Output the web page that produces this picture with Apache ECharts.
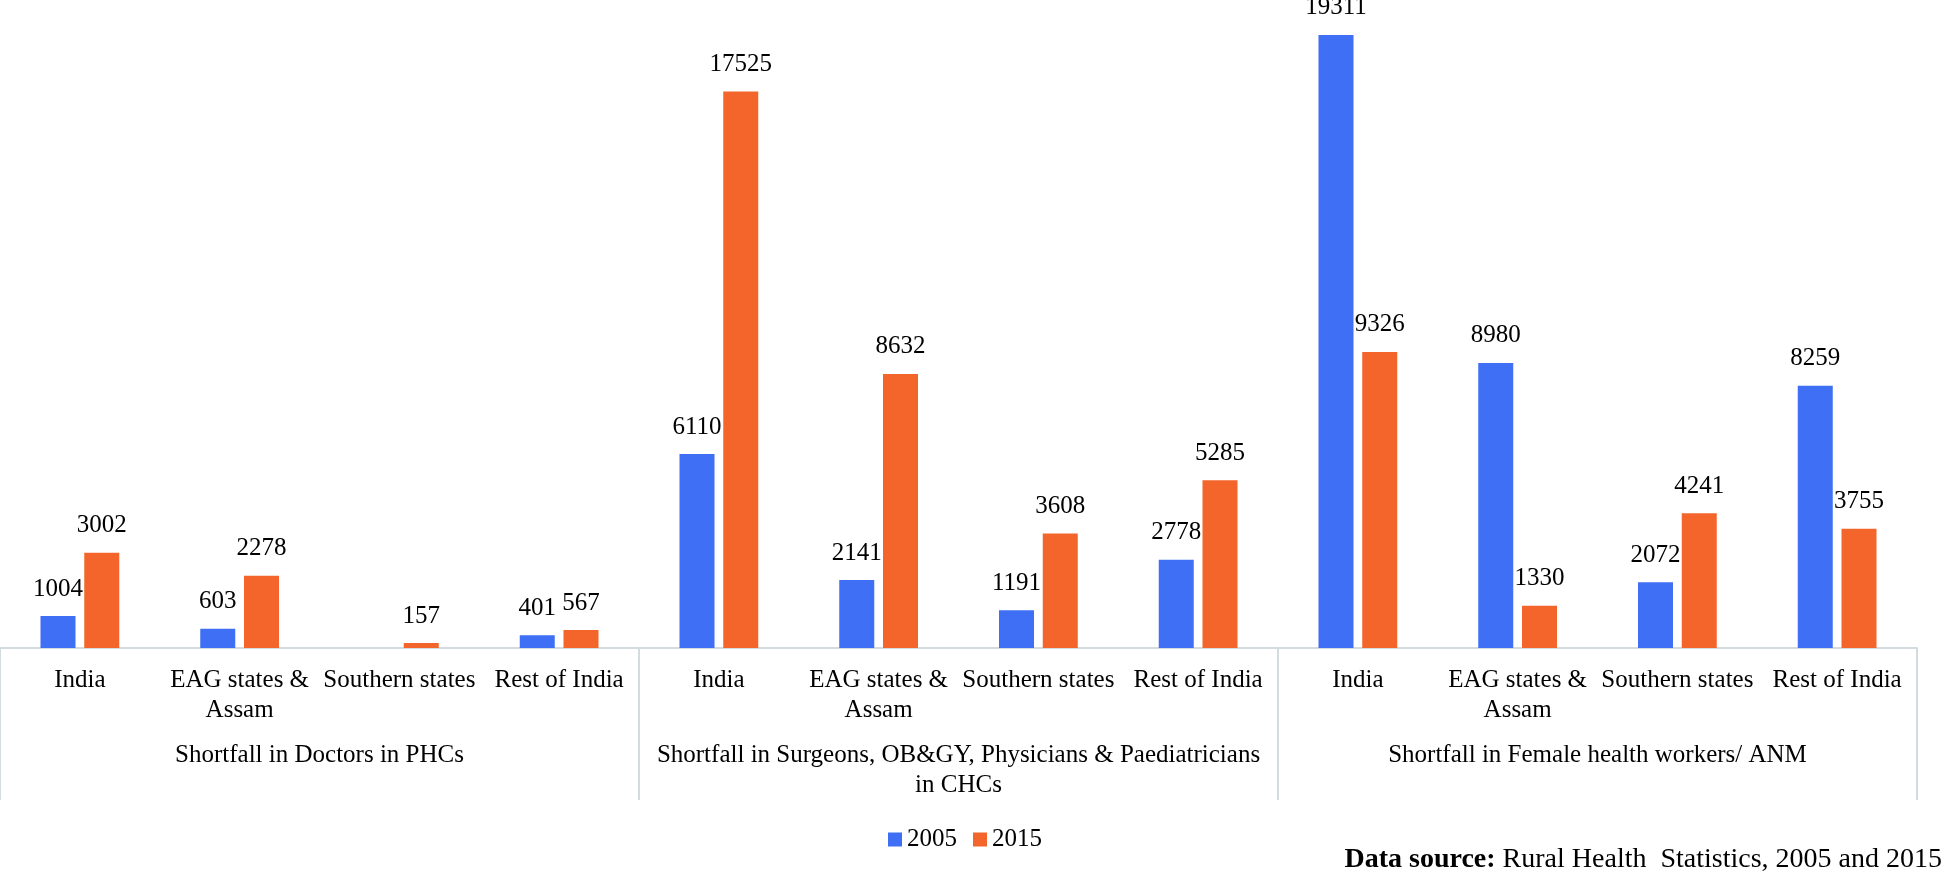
<!DOCTYPE html>
<html>
<head>
<meta charset="utf-8">
<script src="https://cdn.jsdelivr.net/npm/echarts@6/dist/echarts.min.js"></script>
<style>
html,body{margin:0;padding:0;background:#fff;}
#chart{width:1947px;height:879px;}
</style>
</head>
<body>
<div id="chart"></div>
<script>
var categories = ['India', 'EAG states &\nAssam', 'Southern states', 'Rest of India',
                  'India', 'EAG states &\nAssam', 'Southern states', 'Rest of India',
                  'India', 'EAG states &\nAssam', 'Southern states', 'Rest of India'];
var groups = ['Shortfall in Doctors in PHCs',
              'Shortfall in Surgeons, OB&GY, Physicians & Paediatricians\nin CHCs',
              'Shortfall in Female health workers/ ANM'];
var seriesNames = ['2005', '2015'];
var v2005 = [1004, 603, null, 401, 6110, 2141, 1191, 2778, 19311, 8980, 2072, 8259];
var v2015 = [3002, 2278, 157, 567, 17525, 8632, 3608, 5285, 9326, 1330, 4241, 3755];

var FONT = 'Liberation Serif';
var LINE = '#d3dbde';
var chart = echarts.init(document.getElementById('chart'));
var labelStyle = {
  show: true, position: 'top', distance: 12,
  fontFamily: FONT, fontSize: 25, lineHeight: 30, color: '#000'
};
chart.setOption({
  backgroundColor: '#fff',
  animation: false,
  title: {
    text: '{b|Data source:} Rural Health  Statistics, 2005 and 2015',
    right: 0, top: 841,
    textStyle: {
      fontFamily: FONT, fontSize: 28, fontWeight: 'normal', color: '#000',
      rich: { b: { fontFamily: FONT, fontSize: 28, fontWeight: 'bold', color: '#000' } }
    }
  },
  legend: {
    data: seriesNames,
    left: 883, top: 822,
    itemWidth: 14, itemHeight: 14, itemGap: 16,
    icon: 'rect',
    textStyle: { fontFamily: FONT, fontSize: 25, color: '#000' }
  },
  grid: { left: 0, right: 30, top: 13, bottom: 231, containLabel: false },
  xAxis: [
    {
      type: 'category', data: categories, position: 'bottom',
      axisLine: { show: true, lineStyle: { color: LINE, width: 2 } },
      axisTick: { show: false },
      axisLabel: {
        interval: 0, margin: 17, fontFamily: FONT, fontSize: 25, lineHeight: 30,
        color: '#000', verticalAlign: 'top'
      }
    },
    {
      type: 'category', data: groups, position: 'bottom', offset: 0,
      axisLine: { show: false },
      axisTick: { show: true, length: 152, lineStyle: { color: LINE, width: 2 } },
      axisLabel: {
        interval: 0, margin: 92, fontFamily: FONT, fontSize: 25, lineHeight: 30,
        color: '#000', verticalAlign: 'top'
      }
    }
  ],
  yAxis: {
    type: 'value', min: 0, max: 20000, show: false,
    splitLine: { show: false }
  },
  series: [
    {
      name: seriesNames[0], type: 'bar', data: v2005, barWidth: 35, barGap: '25%',
      itemStyle: { color: '#3e6ff4' }, label: labelStyle, xAxisIndex: 0
    },
    {
      name: seriesNames[1], type: 'bar', data: v2015, barWidth: 35, barGap: '25%',
      itemStyle: { color: '#f4652b' }, label: labelStyle, xAxisIndex: 0
    }
  ]
});
</script>
</body>
</html>
